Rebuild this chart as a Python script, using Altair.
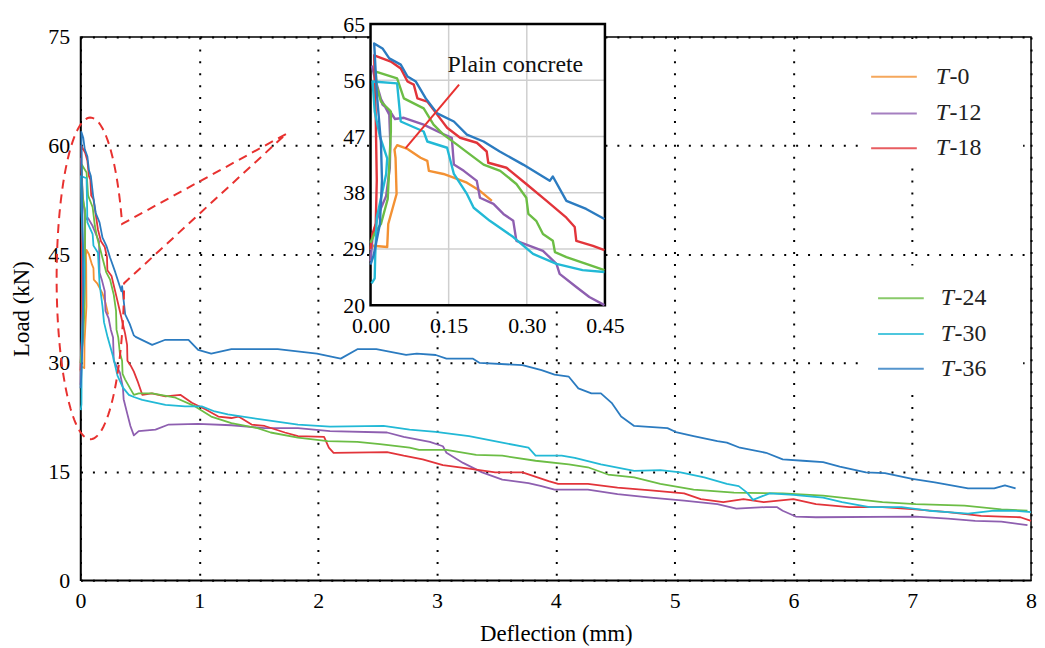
import altair as alt
import numpy as np
import pandas as pd

# ---------------- data ----------------
SERIES = ["T-0", "T-12", "T-18", "T-24", "T-30", "T-36"]
COLORS = ["#f39133", "#8e5fb0", "#e2343a", "#6cbd45", "#22b9d6", "#2b7bc0"]

t0_x = [0.000, 0.005, 0.032, 0.034, 0.050, 0.048, 0.046, 0.051, 0.071, 0.096, 0.109, 0.112,
        0.140, 0.166, 0.185, 0.210, 0.233]
t0_y = [28.8, 29.5, 29.3, 33.0, 37.8, 43.6, 44.9, 45.6, 45.0, 43.6, 43.1, 41.5,
        41.0, 40.2, 39.6, 38.3, 36.7]

t12_x = [0.000, 0.004, 0.015, 0.030, 0.037, 0.038, 0.036, 0.020, 0.008, 0.003, 0.012, 0.023,
         0.036, 0.047, 0.064, 0.102, 0.134, 0.156, 0.160, 0.179, 0.204, 0.210, 0.236, 0.255,
         0.274, 0.280, 0.331, 0.357, 0.363, 0.395, 0.420, 0.449,
         0.49, 0.631, 0.742, 0.99, 1.27, 1.55, 1.83, 2.10, 2.58, 2.72, 2.94, 3.05, 3.08, 3.22,
         3.38, 3.55, 3.77, 3.88, 3.99, 4.27, 4.52, 4.80, 5.08, 5.36, 5.52, 5.77, 5.86, 5.91,
         6.02, 6.19, 7.03, 7.30, 7.53, 7.75, 7.97]
t12_y = [27.0, 31.0, 34.5, 37.5, 42.0, 45.8, 50.5, 53.0, 56.5, 58.2, 55.0, 52.1,
         51.2, 49.8, 50.0, 48.9, 47.6, 46.8, 42.5, 41.5, 39.9, 37.2, 36.2, 34.6,
         33.5, 30.3, 28.7, 26.6, 25.0, 22.9, 21.3, 20.0,
         20.6, 20.8, 21.5, 21.6, 21.4, 21.0, 21.0, 20.6, 20.4, 19.8, 19.1, 18.5, 17.6, 16.2,
         14.9, 13.9, 13.4, 13.0, 12.5, 12.5, 11.9, 11.4, 11.0, 10.5, 9.9, 10.1, 10.1, 9.6,
         8.8, 8.7, 8.8, 8.5, 8.2, 8.1, 7.6]

t18_x = [0.000, 0.004, 0.010, 0.012, 0.010, 0.008, 0.007, 0.039, 0.058, 0.071, 0.083, 0.090,
         0.109, 0.128, 0.147, 0.172, 0.204, 0.223, 0.226, 0.261, 0.299, 0.338, 0.376, 0.392,
         0.395, 0.427, 0.449,
         0.48, 0.52, 0.60, 0.715, 0.84, 0.937, 1.05, 1.16, 1.27, 1.33, 1.44, 1.55, 1.72, 1.83,
         2.05, 2.09, 2.13, 2.58, 2.72, 2.88, 3.05, 3.27, 3.49, 3.72, 3.94, 4.02, 4.27, 4.52,
         4.80, 5.08, 5.22, 5.41, 5.58, 5.75, 6.00, 6.19, 6.47, 6.75, 7.03, 7.30, 7.58, 7.75,
         7.91, 8.00]
t18_y = [29.0, 31.5, 33.0, 40.0, 50.0, 56.0, 60.0, 59.0, 57.9, 55.8, 55.3, 53.1,
         52.6, 50.5, 48.4, 46.8, 46.0, 44.6, 42.8, 42.0, 39.4, 36.7, 34.0, 32.5,
         30.3, 29.5, 28.8,
         27.5, 25.6, 25.8, 25.4, 25.6, 24.5, 23.6, 22.6, 22.4, 22.6, 21.5, 21.3, 20.4, 19.9,
         19.8, 18.3, 17.6, 17.7, 17.2, 16.7, 15.9, 15.4, 14.9, 14.9, 13.7, 13.3, 13.3, 12.8,
         12.4, 12.0, 11.2, 10.8, 11.2, 10.8, 11.2, 10.5, 10.1, 10.1, 9.8, 9.4, 8.9, 8.8,
         8.7, 8.2]

t24_x = [0.000, 0.008, 0.020, 0.033, 0.039, 0.039, 0.020, 0.012, 0.010, 0.051, 0.064, 0.102,
         0.121, 0.140, 0.166, 0.185, 0.217, 0.249, 0.280, 0.299, 0.303, 0.318, 0.331, 0.350,
         0.354, 0.376, 0.414, 0.449,
         0.49, 0.603, 0.80, 0.965, 1.10, 1.27, 1.49, 1.60, 1.83, 2.08, 2.33, 2.52, 2.77, 2.85,
         3.08, 3.33, 3.55, 3.83, 4.11, 4.27, 4.44, 4.66, 4.88, 5.16, 5.50, 5.91, 6.25, 6.75,
         7.03, 7.44, 7.75, 7.97]
t24_y = [30.0, 31.5, 33.0, 37.0, 47.8, 51.0, 52.6, 55.0, 57.4, 56.3, 53.1, 51.5,
         48.9, 47.3, 45.7, 44.5, 42.5, 41.5, 39.4, 37.2, 34.6, 33.5, 31.4, 30.3,
         28.5, 27.7, 26.6, 25.6,
         25.8, 25.8, 25.2, 24.0, 22.6, 21.7, 21.0, 20.4, 19.7, 19.2, 19.1, 18.8, 18.3, 18.0,
         18.0, 17.3, 17.2, 16.5, 16.0, 15.6, 14.6, 14.2, 13.3, 12.5, 12.1, 12.0, 11.7, 10.8,
         10.5, 10.3, 9.8, 9.6]

t30_x = [0.002, 0.008, 0.009, 0.012, 0.030, 0.032, 0.018, 0.008, 0.004, 0.051, 0.058, 0.102,
         0.109, 0.147, 0.160, 0.185, 0.198, 0.229, 0.274, 0.312, 0.357, 0.407, 0.449,
         0.52, 0.715, 0.88, 1.02, 1.13, 1.24, 1.52, 1.83, 2.10, 2.55, 2.77, 2.99, 3.27, 3.55,
         3.77, 3.83, 4.05, 4.16, 4.38, 4.66, 4.88, 5.05, 5.25, 5.44, 5.54, 5.61, 5.66, 5.80,
         6.00, 6.25, 6.41, 6.64, 6.91, 7.14, 7.30, 7.47, 7.69, 7.86, 8.00]
t30_y = [23.5, 24.3, 28.0, 34.0, 41.0, 43.5, 47.0, 51.0, 55.8, 55.5, 49.4, 47.8,
         46.2, 45.2, 41.0, 37.8, 35.6, 33.5, 30.9, 28.2, 26.6, 25.6, 25.3,
         24.9, 24.2, 24.0, 24.0, 23.3, 22.9, 22.2, 21.5, 21.2, 21.3, 20.8, 20.5, 19.9, 19.0,
         18.3, 17.2, 17.2, 16.9, 16.0, 15.1, 15.2, 14.9, 14.2, 13.3, 13.0, 12.1, 11.1, 12.0,
         11.8, 11.4, 10.8, 10.1, 10.1, 9.6, 9.4, 9.2, 9.6, 9.6, 9.4]

t36_x = [0.000, 0.006, 0.018, 0.022, 0.020, 0.012, 0.007, 0.023, 0.036, 0.058, 0.071, 0.087,
         0.106, 0.128, 0.160, 0.185, 0.217, 0.248, 0.293, 0.344, 0.350, 0.376, 0.414, 0.449,
         0.464, 0.603, 0.714, 0.909, 0.99, 1.10, 1.27, 1.66, 1.99, 2.19, 2.33, 2.49, 2.74,
         2.83, 2.99, 3.08, 3.30, 3.36, 3.72, 3.88, 3.99, 4.11, 4.19, 4.30, 4.38, 4.47, 4.55,
         4.66, 4.94, 5.02, 5.16, 5.36, 5.44, 5.55, 5.77, 5.91, 6.08, 6.25, 6.39, 6.61, 6.77,
         7.00, 7.19, 7.47, 7.69, 7.78, 7.87]
t36_y = [26.5, 28.0, 33.0, 40.0, 46.0, 54.0, 61.9, 61.1, 59.5, 58.5, 56.6, 55.8,
         53.1, 50.7, 49.4, 47.3, 46.2, 44.6, 42.5, 39.9, 40.6, 36.7, 35.4, 33.8,
         33.6, 32.5, 33.2, 33.2, 31.8, 31.3, 31.9, 31.9, 31.3, 30.6, 31.9, 31.9, 31.1,
         31.3, 31.1, 30.6, 30.6, 30.0, 29.7, 29.0, 28.4, 28.1, 26.5, 25.8, 25.8, 24.5, 22.6,
         21.3, 21.0, 20.4, 19.9, 19.2, 19.0, 18.3, 17.6, 16.7, 16.5, 16.3, 15.7, 14.9, 14.8,
         14.0, 13.5, 12.7, 12.7, 13.1, 12.7]

X_TICKS = [0, 1, 2, 3, 4, 5, 6, 7, 8]
Y_TICKS = [0, 15, 30, 45, 60, 75]
INSET_X_TICKS = [0.0, 0.15, 0.30, 0.45]
INSET_Y_TICKS = [20, 29, 38, 47, 56, 65]
INSET_X_GRID = [0.15, 0.30]
INSET_Y_GRID = [29, 38, 47, 56]
INSET_X_DOMAIN = [0.0, 0.45]
INSET_Y_DOMAIN = [20, 65]

# annotation (inset): pointer line and label
ANN_X = [0.067, 0.170]
ANN_Y = [45.1, 55.3]
ANN_TEXT = ["Plain concrete"]
ANN_TX = [0.278]
ANN_TY = [58.4]

# dashed ellipse (main chart) and zoom pointer
ELL_CX, ELL_CY, ELL_RX, ELL_RY = 0.083, 41.67, 0.284, 22.2
ELL_T0, ELL_T1 = 19.8, 358.3
TIP_X, TIP_Y = 1.729, 61.6

# legend layout (pixels inside plot area)
LEG_PREFIX = ["T"] * 6
LEG_SUFFIX = ["-0", "-12", "-18", "-24", "-30", "-36"]
LEG_LX1 = [796, 796, 796, 803, 803, 803]
LEG_LX2 = [842, 842, 842, 849, 849, 849]
LEG_TX = [861, 861, 861, 866, 866, 866]
LEG_LY = [40, 77, 112, 263, 299, 334]
BOX_X1 = [789, 789]
BOX_X2 = [949, 949]
BOX_Y1 = [2, 230]
BOX_Y2 = [125, 355]

FONT = "Liberation Serif"

# ---------------- tables ----------------
rows = []
for s, xs_, ys_ in zip(SERIES, [t0_x, t12_x, t18_x, t24_x, t30_x, t36_x],
                        [t0_y, t12_y, t18_y, t24_y, t30_y, t36_y]):
    for i, (a, b) in enumerate(zip(xs_, ys_)):
        rows.append({"s": s, "i": i, "x": a, "y": b})
df = pd.DataFrame(rows)

tt = np.deg2rad(np.linspace(ELL_T0, ELL_T1, 140))
ell_x = [TIP_X] + list(ELL_CX + ELL_RX * np.cos(tt)) + [TIP_X]
ell_y = [TIP_Y] + list(ELL_CY + ELL_RY * np.sin(tt)) + [TIP_Y]
ell_df = pd.DataFrame({"x": ell_x, "y": ell_y, "i": range(len(ell_x))})

leg_df = pd.DataFrame({"s": SERIES, "p": LEG_PREFIX, "q": LEG_SUFFIX, "lx1": LEG_LX1,
                       "lx2": LEG_LX2, "tx": LEG_TX, "tx2": [v + 14 for v in LEG_TX], "ly": LEG_LY})
box_df = pd.DataFrame({"bx1": BOX_X1, "bx2": BOX_X2, "by1": BOX_Y1, "by2": BOX_Y2})

AX = dict(labelFont=FONT, labelFontSize=22, labelColor="black",
          titleFont=FONT, titleFontSize=23, titleFontWeight="normal", titleColor="black",
          ticks=False)

# ---------------- main chart ----------------
color = alt.Color("s:N", scale=alt.Scale(domain=SERIES, range=COLORS), legend=None)
main_x = alt.Scale(domain=[0, 8], nice=False, zero=False)
main_y = alt.Scale(domain=[0, 75], nice=False, zero=False)

lines = alt.Chart(df).mark_line(strokeWidth=1.8, strokeJoin="round").encode(
    x=alt.X("x:Q", scale=main_x,
            axis=alt.Axis(values=X_TICKS, title="Deflection (mm)", labelPadding=10,
                          titlePadding=12, labelFlush=False, grid=True, format="d", **AX)),
    y=alt.Y("y:Q", scale=main_y,
            axis=alt.Axis(values=Y_TICKS, title="Load (kN)", labelPadding=11,
                          titlePadding=14, grid=True, format="d", **AX)),
    color=color,
    order="i:Q",
)

ellipse = alt.Chart(ell_df).mark_line(color="#e8312f", strokeDash=[9, 6], strokeWidth=2).encode(
    x="x:Q", y="y:Q", order="i:Q"
)

boxes = alt.Chart(box_df).mark_rect(fill="white").encode(
    x=alt.X("bx1:Q", scale=None), x2="bx2:Q",
    y=alt.Y("by1:Q", scale=None), y2="by2:Q",
)
leg_lines = alt.Chart(leg_df).mark_rule(strokeWidth=2, opacity=0.8).encode(
    x=alt.X("lx1:Q", scale=None), x2="lx2:Q", y=alt.Y("ly:Q", scale=None), color=color
)
leg_t = alt.Chart(leg_df).mark_text(font=FONT, fontSize=24, fontStyle="italic", align="left",
                                    baseline="middle", color="#222").encode(
    x=alt.X("tx:Q", scale=None), y=alt.Y("ly:Q", scale=None), text="p:N"
)
leg_q = alt.Chart(leg_df).mark_text(font=FONT, fontSize=24, align="left",
                                    baseline="middle", color="#222").encode(
    x=alt.X("tx2:Q", scale=None), y=alt.Y("ly:Q", scale=None), text="q:N"
)

main = alt.layer(lines, ellipse, boxes, leg_lines, leg_t, leg_q)

# ---------------- inset ----------------
ins_x = alt.Scale(domain=INSET_X_DOMAIN, range=[292, 528], nice=False, zero=False)
ins_y = alt.Scale(domain=INSET_Y_DOMAIN, range=[270, -13], nice=False, zero=False)
frame_df = pd.DataFrame({"x0": [INSET_X_DOMAIN[0]], "x1": [INSET_X_DOMAIN[1]],
                         "y0": [INSET_Y_DOMAIN[0]], "y1": [INSET_Y_DOMAIN[1]]})

bg = alt.Chart(frame_df).mark_rect(fill="white").encode(
    x=alt.X("x0:Q", scale=ins_x,
            axis=alt.Axis(orient="bottom", offset=-277, values=INSET_X_TICKS, format=".2f",
                          title=None, grid=False, domain=False, labelFlush=False,
                          labelPadding=11, zindex=1, **AX)),
    x2="x1:Q",
    y=alt.Y("y0:Q", scale=ins_y,
            axis=alt.Axis(orient="left", offset=-292, values=INSET_Y_TICKS, format="d",
                          title=None, grid=False, domain=False, labelPadding=6, zindex=1, **AX)),
    y2="y1:Q",
)
gv_df = pd.DataFrame({"gx": INSET_X_GRID, "lo": INSET_Y_DOMAIN[0], "hi": INSET_Y_DOMAIN[1]})
gh_df = pd.DataFrame({"gy": INSET_Y_GRID, "lo": INSET_X_DOMAIN[0], "hi": INSET_X_DOMAIN[1]})
grid_v = alt.Chart(gv_df).mark_rule(color="#cfcfcf", strokeWidth=1.5).encode(
    x="gx:Q", y="lo:Q", y2="hi:Q")
grid_h = alt.Chart(gh_df).mark_rule(color="#cfcfcf", strokeWidth=1.5).encode(
    y="gy:Q", x="lo:Q", x2="hi:Q")
border = alt.Chart(frame_df).mark_rect(fillOpacity=0, stroke="black", strokeWidth=2.5).encode(
    x="x0:Q", x2="x1:Q", y="y0:Q", y2="y1:Q")
ins_lines = alt.Chart(df).transform_filter("datum.x <= 0.4505").mark_line(
    strokeWidth=2.4, strokeJoin="round").encode(
    x="x:Q", y="y:Q", color=color, order="i:Q")
ann_line = alt.Chart(pd.DataFrame({"x": ANN_X, "y": ANN_Y})).mark_line(
    color="#e8312f", strokeWidth=2).encode(x="x:Q", y="y:Q")
ann_text = alt.Chart(pd.DataFrame({"x": ANN_TX, "y": ANN_TY, "t": ANN_TEXT})).mark_text(
    font=FONT, fontSize=24, align="center", baseline="middle", color="#111").encode(
    x="x:Q", y="y:Q", text="t:N")

inset = alt.layer(bg, grid_v, grid_h, border, ins_lines, ann_line, ann_text)

chart = (
    alt.layer(main, inset)
    .resolve_scale(x="independent", y="independent")
    .properties(width=957, height=547,
                padding={"left": 73, "top": 27, "right": 6, "bottom": 64},
                autosize=alt.AutoSizeParams(type="none"))
    .configure_view(stroke="black", strokeWidth=1.5)
    .configure_axis(labelFont=FONT, labelFontSize=22, labelColor="black",
                    titleFont=FONT, titleFontSize=23, titleFontWeight="normal",
                    titleColor="black", domainColor="black", domainWidth=1.5,
                    ticks=False, gridColor="black", gridDash=[2, 10], gridWidth=2,
                    gridOpacity=1)
)

chart.save("out.html", embed_options={"renderer": "svg", "actions": False})
